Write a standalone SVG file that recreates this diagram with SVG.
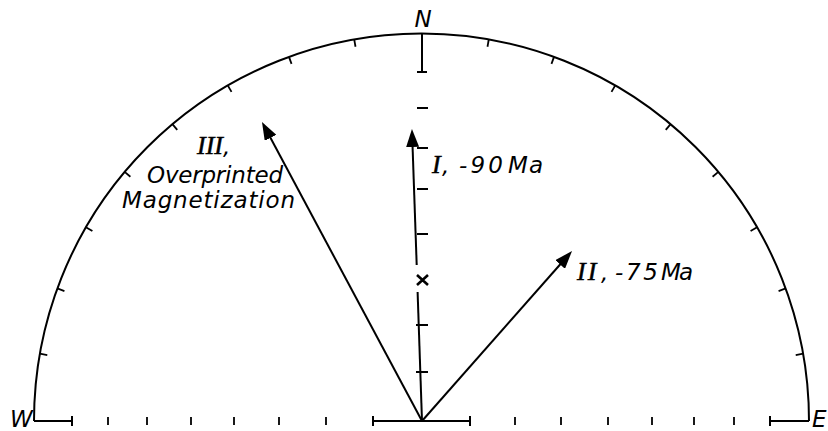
<svg xmlns="http://www.w3.org/2000/svg" width="828" height="431" viewBox="0 0 828 431">
<defs>
<marker id="ah" viewBox="0 0 18 13" refX="8" refY="6.5" markerWidth="18" markerHeight="13" markerUnits="userSpaceOnUse" orient="auto"><path d="M0,0 L18,6.5 L0,13 Z" fill="#000"/></marker>
</defs>
<style>
.ln{stroke:#000;stroke-width:2;fill:none}
.tk{stroke:#000;stroke-width:1.8;fill:none}
.lbl{font-family:"DejaVu Sans","Liberation Sans",sans-serif;font-style:italic;font-size:23px;fill:#000}
.rn{font-family:"Liberation Serif",serif;font-style:italic;font-size:26px;stroke:#000;stroke-width:0.5}
</style>
<rect width="828" height="431" fill="#fff"/>
<g id="circle">
<path class="ln" d="M34,421 A387.5,387.5 0 0 1 809,421"/>
<g class="tk">
<line x1="421.5" y1="33.5" x2="421.5" y2="41" transform="rotate(10 421.5 421)"/>
<line x1="421.5" y1="33.5" x2="421.5" y2="41" transform="rotate(20 421.5 421)"/>
<line x1="421.5" y1="33.5" x2="421.5" y2="41" transform="rotate(30 421.5 421)"/>
<line x1="421.5" y1="33.5" x2="421.5" y2="41" transform="rotate(40 421.5 421)"/>
<line x1="421.5" y1="33.5" x2="421.5" y2="41" transform="rotate(50 421.5 421)"/>
<line x1="421.5" y1="33.5" x2="421.5" y2="41" transform="rotate(60 421.5 421)"/>
<line x1="421.5" y1="33.5" x2="421.5" y2="41" transform="rotate(70 421.5 421)"/>
<line x1="421.5" y1="33.5" x2="421.5" y2="41" transform="rotate(80 421.5 421)"/>
<line x1="421.5" y1="33.5" x2="421.5" y2="41" transform="rotate(-10 421.5 421)"/>
<line x1="421.5" y1="33.5" x2="421.5" y2="41" transform="rotate(-20 421.5 421)"/>
<line x1="421.5" y1="33.5" x2="421.5" y2="41" transform="rotate(-30 421.5 421)"/>
<line x1="421.5" y1="33.5" x2="421.5" y2="41" transform="rotate(-40 421.5 421)"/>
<line x1="421.5" y1="33.5" x2="421.5" y2="41" transform="rotate(-50 421.5 421)"/>
<line x1="421.5" y1="33.5" x2="421.5" y2="41" transform="rotate(-60 421.5 421)"/>
<line x1="421.5" y1="33.5" x2="421.5" y2="41" transform="rotate(-70 421.5 421)"/>
<line x1="421.5" y1="33.5" x2="421.5" y2="41" transform="rotate(-80 421.5 421)"/>
</g>
</g>
<g id="baseline">
<path class="ln" d="M34,421 H72 M72,416 V426 M373,421 H470 M373,416 V426 M470,416 V426 M770,421 H809 M770,416 V426"/>
<path class="tk" d="M108,417 V425 M147,417 V425 M191,417 V425 M234,417 V425 M279,417 V425 M326,417 V425 M515,417 V425 M561,417 V425 M608,417 V425 M652,417 V425 M694,417 V425 M734,417 V425"/>
</g>
<g id="north-axis">
<path class="ln" d="M422,34 V72 M417,72 H427"/>
<path class="tk" d="M417,108 H428 M417,148 H428 M417,189 H428 M417,234 H428 M416,325 H428 M416,372 H428"/>
<path d="M417,275 L428,285 M417,285 L428,275" stroke="#000" stroke-width="2.6"/>
</g>
<g id="connectors">
<path class="ln" d="M422,421 L417.6,292"/>
<path class="ln" d="M416.7,265 L412.3,139" marker-end="url(#ah)"/>
<path class="ln" d="M422,421 L266.7,130.8" marker-end="url(#ah)"/>
<path class="ln" d="M422,421 L565.4,258.5" marker-end="url(#ah)"/>
</g>
<g id="labels" class="lbl">
<text x="423" y="27" text-anchor="middle">N</text>
<text x="10" y="427">W</text>
<text x="812" y="427">E</text>
<text y="173"><tspan class="rn" x="432">I</tspan><tspan x="442">,</tspan><tspan x="459" textLength="44">-90</tspan><tspan x="508" textLength="35">Ma</tspan></text>
<text y="280"><tspan class="rn" x="577" letter-spacing="2">II</tspan><tspan x="601">,</tspan><tspan x="615" textLength="43">-75</tspan><tspan x="661" textLength="32">Ma</tspan></text>
<text x="197" y="154"><tspan class="rn">III</tspan>,</text>
<text x="147" y="183" textLength="136" lengthAdjust="spacing">Overprinted</text>
<text x="122" y="208" textLength="173" lengthAdjust="spacing">Magnetization</text>
</g>
</svg>
